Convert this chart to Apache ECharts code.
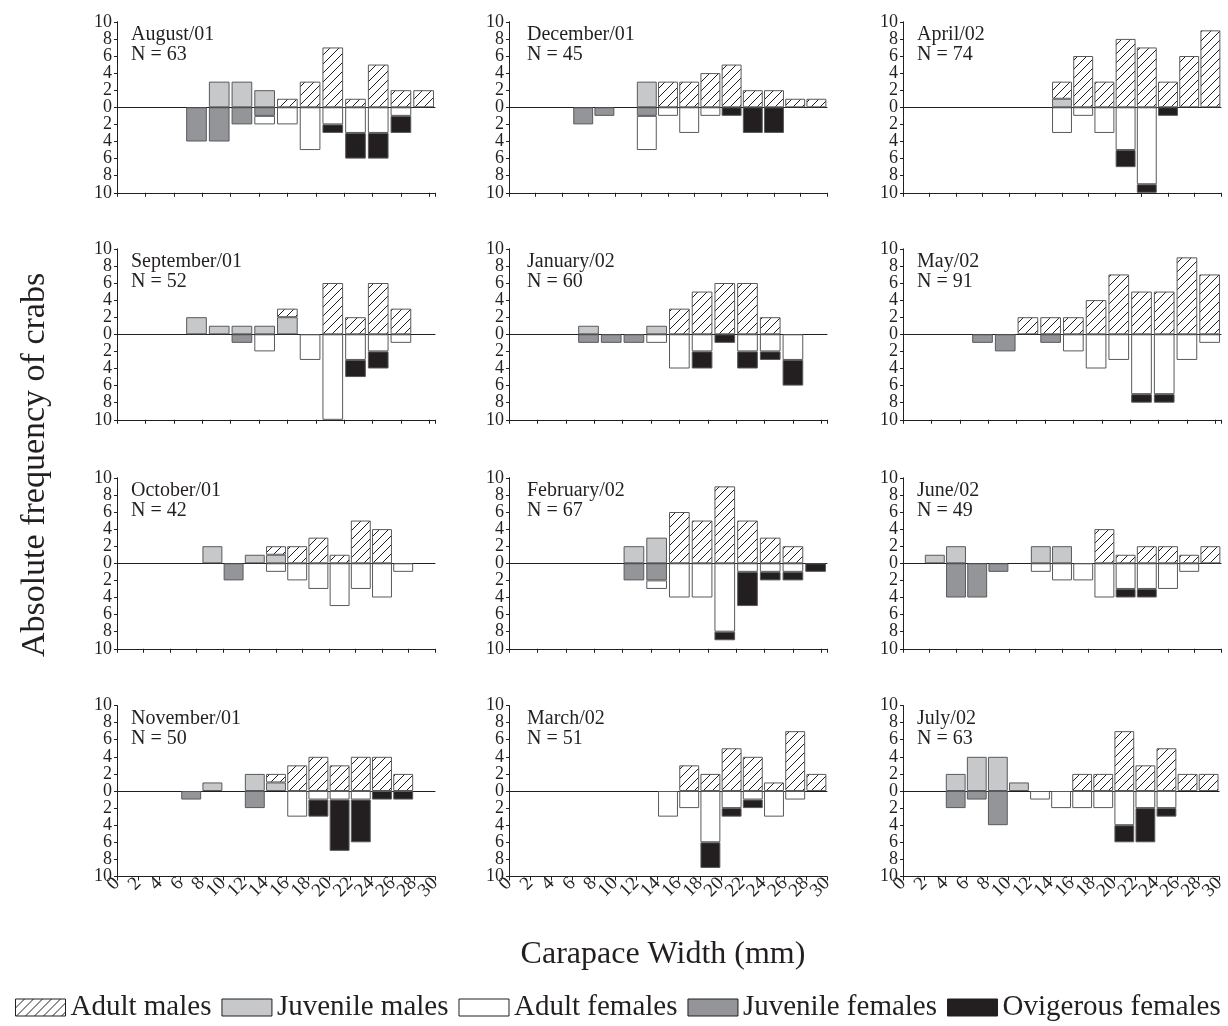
<!DOCTYPE html>
<html><head><meta charset="utf-8">
<script src="https://cdn.jsdelivr.net/npm/echarts@6/dist/echarts.min.js"></script>
<style>html,body{margin:0;padding:0;background:#fff}#c{width:1228px;height:1026px}</style>
</head><body><div id="c"></div>
<script>
// Panels in reading order: row by row, left to right
const panelTitles = ['August/01','December/01','April/02','September/01','January/02','May/02','October/01','February/02','June/02','November/01','March/02','July/02'];
const panelN = [63,45,74,52,60,91,42,67,49,50,51,63];
// number of size-class slots on each panel's category axis
const panelSlots = [14,15,15,14,14,14,15,14,15,15,15,15];
// tick labels
const yTickLabels = ['10','8','6','4','2','0','2','4','6','8','10'];
const widthTickLabels = ['0','2','4','6','8','10','12','14','16','18','20','22','24','26','28','30'];

const adultMales = [
  [0,0,0,0,0,0,0,1,3,7,1,5,2,2],
  [0,0,0,0,0,0,0,3,3,4,5,2,2,1,1],
  [0,0,0,0,0,0,0,2,6,3,8,7,3,6,9],
  [0,0,0,0,0,0,0,1,0,6,2,6,3,0],
  [0,0,0,0,0,0,0,3,5,6,6,2,0,0],
  [0,0,0,0,0,2,2,2,4,7,5,5,9,7],
  [0,0,0,0,0,0,0,1,2,3,1,5,4,0,0],
  [0,0,0,0,0,0,0,6,5,9,5,3,2,0],
  [0,0,0,0,0,0,0,0,0,4,1,2,2,1,2],
  [0,0,0,0,0,0,0,1,3,4,3,4,4,2,0],
  [0,0,0,0,0,0,0,0,3,2,5,4,1,7,2],
  [0,0,0,0,0,0,0,0,2,2,7,3,5,2,2]
];
const juvenileMales = [
  [0,0,0,0,3,3,2,0,0,0,0,0,0,0],
  [0,0,0,0,0,0,3,0,0,0,0,0,0,0,0],
  [0,0,0,0,0,0,0,1,0,0,0,0,0,0,0],
  [0,0,0,2,1,1,1,2,0,0,0,0,0,0],
  [0,0,0,1,0,0,1,0,0,0,0,0,0,0],
  [0,0,0,0,0,0,0,0,0,0,0,0,0,0],
  [0,0,0,0,2,0,1,1,0,0,0,0,0,0,0],
  [0,0,0,0,0,2,3,0,0,0,0,0,0,0],
  [0,1,2,0,0,0,2,2,0,0,0,0,0,0,0],
  [0,0,0,0,1,0,2,1,0,0,0,0,0,0,0],
  [0,0,0,0,0,0,0,0,0,0,0,0,0,0,0],
  [0,0,2,4,4,1,0,0,0,0,0,0,0,0,0]
];
const adultFemales = [
  [0,0,0,0,0,0,1,2,5,2,3,3,1,0],
  [0,0,0,0,0,0,4,1,3,1,0,0,0,0,0],
  [0,0,0,0,0,0,0,3,1,3,5,9,0,0,0],
  [0,0,0,0,0,0,2,0,3,10,3,2,1,0],
  [0,0,0,0,0,0,1,4,2,0,2,2,3,0],
  [0,0,0,0,0,0,0,2,4,3,7,7,3,1],
  [0,0,0,0,0,0,0,1,2,3,5,3,4,1,0],
  [0,0,0,0,0,0,1,4,4,8,1,1,1,0],
  [0,0,0,0,0,0,1,2,2,4,3,3,3,1,0],
  [0,0,0,0,0,0,0,0,3,1,1,1,0,0,0],
  [0,0,0,0,0,0,0,3,2,6,2,1,3,1,0],
  [0,0,0,0,0,0,1,2,2,2,4,2,2,0,0]
];
const juvenileFemales = [
  [0,0,0,4,4,2,1,0,0,0,0,0,0,0],
  [0,0,0,2,1,0,1,0,0,0,0,0,0,0,0],
  [0,0,0,0,0,0,0,0,0,0,0,0,0,0,0],
  [0,0,0,0,0,1,0,0,0,0,0,0,0,0],
  [0,0,0,1,1,1,0,0,0,0,0,0,0,0],
  [0,0,0,1,2,0,1,0,0,0,0,0,0,0],
  [0,0,0,0,0,2,0,0,0,0,0,0,0,0,0],
  [0,0,0,0,0,2,2,0,0,0,0,0,0,0],
  [0,0,4,4,1,0,0,0,0,0,0,0,0,0,0],
  [0,0,0,1,0,0,2,0,0,0,0,0,0,0,0],
  [0,0,0,0,0,0,0,0,0,0,0,0,0,0,0],
  [0,0,2,1,4,0,0,0,0,0,0,0,0,0,0]
];
const ovigerousFemales = [
  [0,0,0,0,0,0,0,0,0,1,3,3,2,0],
  [0,0,0,0,0,0,0,0,0,0,1,3,3,0,0],
  [0,0,0,0,0,0,0,0,0,0,2,1,1,0,0],
  [0,0,0,0,0,0,0,0,0,0,2,2,0,0],
  [0,0,0,0,0,0,0,0,2,1,2,1,3,0],
  [0,0,0,0,0,0,0,0,0,0,1,1,0,0],
  [0,0,0,0,0,0,0,0,0,0,0,0,0,0,0],
  [0,0,0,0,0,0,0,0,0,1,4,1,1,1],
  [0,0,0,0,0,0,0,0,0,0,1,1,0,0,0],
  [0,0,0,0,0,0,0,0,0,2,6,5,1,1,0],
  [0,0,0,0,0,0,0,0,0,3,1,1,0,0,0],
  [0,0,0,0,0,0,0,0,0,0,2,4,1,0,0]
];
const legendNames = ['Adult males','Juvenile males','Adult females','Juvenile females','Ovigerous females'];

const FONT = '"Liberation Serif", "Times New Roman", serif';
const INK = '#231f20';
const BORDER = '#58595b';

const hatch = (function(){
  const s = 9, c = document.createElement('canvas');
  c.width = s; c.height = s;
  const g = c.getContext('2d');
  g.fillStyle = '#fff'; g.fillRect(0,0,s,s);
  g.strokeStyle = INK; g.lineWidth = 1;
  g.beginPath();
  g.moveTo(0,s); g.lineTo(s,0);
  g.moveTo(-s/2,s/2); g.lineTo(s/2,-s/2);
  g.moveTo(s/2,s*1.5); g.lineTo(s*1.5,s/2);
  g.stroke();
  return c;
})();

const colLeft = [117, 509, 903];
const colText = [131, 527, 917];
const rowZero = [107.3, 334.3, 563.3, 791];
const gridW = 318, gridH = 171;

const grids = [], xAxes = [], yAxes = [], series = [], titles = [];
const kinds = [
  {name:'Juvenile males', src: juvenileMales, sign: 1, color: '#c7c8ca'},
  {name:'Adult males', src: adultMales, sign: 1, color: {image: hatch, repeat: 'repeat'}},
  {name:'Juvenile females', src: juvenileFemales, sign: -1, color: '#939598'},
  {name:'Adult females', src: adultFemales, sign: -1, color: '#ffffff'},
  {name:'Ovigerous females', src: ovigerousFemales, sign: -1, color: INK}
];
const lineStyle = {color: INK, width: 1};

for (let i = 0; i < 12; i++) {
  const r = Math.floor(i / 3), c = i % 3;
  const K = panelSlots[i];
  const bottom = r === 3;
  grids.push({left: colLeft[c], top: rowZero[r] - gridH / 2, width: gridW, height: gridH});
  // bar category axis, its line drawn along zero
  xAxes.push({
    gridIndex: i, type: 'category', position: 'top',
    data: Array.from({length: K}, (_, k) => String(k)),
    axisLine: {show: true, onZero: true, lineStyle},
    axisTick: {show: false}, axisLabel: {show: false}, splitLine: {show: false}
  });
  if (bottom) {
    xAxes.push({
      gridIndex: i, type: 'category', position: 'bottom', data: widthTickLabels, boundaryGap: false,
      axisLine: {show: true, onZero: false, lineStyle},
      axisTick: {show: true, length: 4, interval: 0, lineStyle: {color: INK}},
      axisLabel: {interval: 0, rotate: 45, margin: 4, fontSize: 19, fontFamily: FONT, color: INK},
      splitLine: {show: false}
    });
  } else {
    xAxes.push({
      gridIndex: i, type: 'value', position: 'bottom', min: 0, max: K, interval: 1.25,
      axisLine: {show: true, onZero: false, lineStyle},
      axisTick: {show: true, length: 4, lineStyle: {color: INK}},
      axisLabel: {show: false}, splitLine: {show: false}
    });
  }
  yAxes.push({
    gridIndex: i, type: 'value', position: 'left', min: -10, max: 10, interval: 2,
    axisLine: {show: true, onZero: false, lineStyle},
    axisTick: {show: true, length: 3, lineStyle: {color: INK}},
    axisLabel: {show: false}, splitLine: {show: false}
  });
  yAxes.push({
    gridIndex: i, type: 'category', position: 'left', data: yTickLabels, boundaryGap: false,
    axisLine: {show: false, onZero: false}, axisTick: {show: false},
    axisLabel: {interval: 0, margin: 5, fontSize: 18, fontFamily: FONT, color: INK},
    splitLine: {show: false}
  });
  titles.push({
    text: panelTitles[i] + '\nN = ' + panelN[i],
    left: colText[c], top: rowZero[r] - 82.5, padding: 0,
    textStyle: {fontSize: 20, lineHeight: 20, fontWeight: 'normal', fontFamily: FONT, color: INK}
  });
  kinds.forEach(k => {
    series.push({
      type: 'bar', name: k.name, xAxisIndex: 2 * i, yAxisIndex: 2 * i, stack: 'p' + i,
      barCategoryGap: K === 15 ? '6%' : '9%',
      data: k.src[i].map(v => v ? k.sign * v : '-'),
      itemStyle: {color: k.color, borderColor: BORDER, borderWidth: 1},
      silent: true
    });
  });
}

const chart = echarts.init(document.getElementById('c'), null, {renderer: 'canvas'});
chart.setOption({
  animation: false,
  backgroundColor: '#fff',
  title: titles,
  grid: grids,
  xAxis: xAxes,
  yAxis: yAxes,
  series: series,
  legend: {
    data: legendNames, left: 15, top: 993, padding: 0, itemWidth: 50, itemHeight: 17, itemGap: 10,
    icon: 'rect', selectedMode: false,
    textStyle: {fontSize: 29, fontFamily: FONT, color: INK},
    itemStyle: {borderColor: INK, borderWidth: 1}
  },
  graphic: [
    {type: 'text', x: 35, y: 465, rotation: Math.PI / 2,
     style: {text: 'Absolute frequency of crabs', font: '34px ' + FONT, fill: INK, textAlign: 'center', textVerticalAlign: 'middle', align: 'center', verticalAlign: 'middle'}},
    {type: 'text', x: 663, y: 955,
     style: {text: 'Carapace Width (mm)', font: '32px ' + FONT, fill: INK, textAlign: 'center', textVerticalAlign: 'middle', align: 'center', verticalAlign: 'middle'}}
  ]
});
</script>
</body></html>
